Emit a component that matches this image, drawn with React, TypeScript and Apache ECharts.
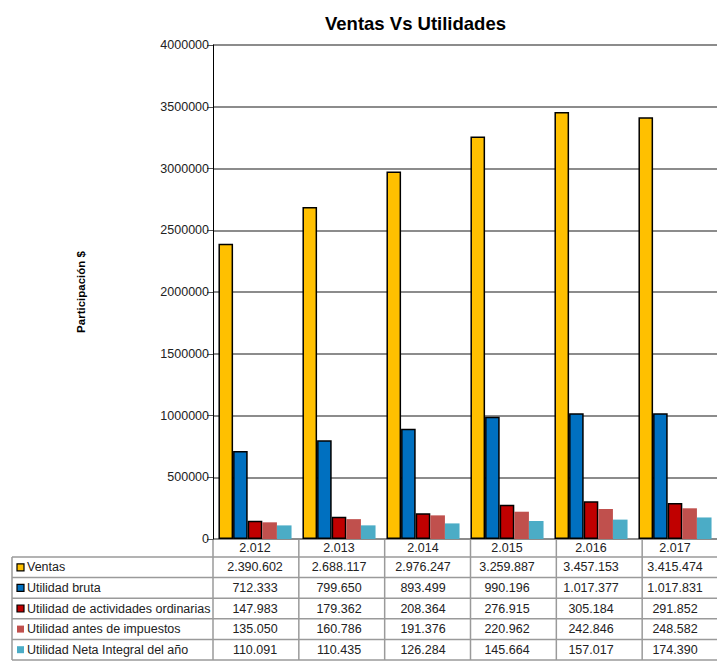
import React, { useEffect, useRef } from "react";
import * as echarts from "echarts";

const categories = ["2.012", "2.013", "2.014", "2.015", "2.016", "2.017"];
const seriesNames = [
  "Ventas",
  "Utilidad bruta",
  "Utilidad de actividades ordinarias",
  "Utilidad antes de impuestos",
  "Utilidad Neta Integral del año",
];
const ventas = [2390602, 2688117, 2976247, 3259887, 3457153, 3415474];
const utilidadBruta = [712333, 799650, 893499, 990196, 1017377, 1017831];
const utilidadOrdinarias = [147983, 179362, 208364, 276915, 305184, 291852];
const utilidadAntesImpuestos = [135050, 160786, 191376, 220962, 242846, 248582];
const utilidadNeta = [110091, 110435, 126284, 145664, 157017, 174390];
const seriesData = [ventas, utilidadBruta, utilidadOrdinarias, utilidadAntesImpuestos, utilidadNeta];
const colors = ["#FFC000", "#0070C0", "#C00000", "#C0504D", "#4BACC6"];
const bordered = [true, true, true, false, false];

const FONT = "'Liberation Sans', Arial, sans-serif";
const GRID_LEFT = 213;
const GRID_TOP = 45;
const GRID_WIDTH = 515;
const GRID_HEIGHT = 494;
const HEADER_H = 18;
const ROW_H = 20.6;
const TABLE_LEFT = 12;

function fmt(n: number): string {
  return String(n).replace(/\B(?=(\d{3})+(?!\d))/g, ".");
}

export default function App() {
  const ref = useRef<HTMLDivElement>(null);
  useEffect(() => {
    if (!ref.current) return;
    const chart = echarts.init(ref.current, undefined, { renderer: "svg" });
    const bottomY = GRID_TOP + GRID_HEIGHT;
    const rightX = GRID_LEFT + GRID_WIDTH;
    const catW = GRID_WIDTH / categories.length;
    const rowTops: number[] = [];
    for (let i = 0; i <= seriesNames.length; i++) rowTops.push(bottomY + HEADER_H + i * ROW_H);
    const lineStyle = { stroke: "#9a9a9a", lineWidth: 1.5 };
    const graphics: any[] = [];
    graphics.push({ type: "line", shape: { x1: GRID_LEFT, y1: bottomY, x2: rightX, y2: bottomY }, style: lineStyle, silent: true });
    rowTops.forEach((y) => {
      graphics.push({ type: "line", shape: { x1: TABLE_LEFT, y1: y, x2: rightX, y2: y }, style: lineStyle, silent: true });
    });
    graphics.push({ type: "line", shape: { x1: TABLE_LEFT, y1: rowTops[0], x2: TABLE_LEFT, y2: rowTops[rowTops.length - 1] }, style: lineStyle, silent: true });
    for (let i = 0; i <= categories.length; i++) {
      const x = GRID_LEFT + i * catW;
      graphics.push({ type: "line", shape: { x1: x, y1: bottomY, x2: x, y2: rowTops[rowTops.length - 1] }, style: lineStyle, silent: true });
    }
    seriesNames.forEach((name, i) => {
      const cy = rowTops[i] + ROW_H / 2;
      graphics.push({
        type: "rect",
        shape: { x: 17, y: cy - 3.5, width: 7, height: 7 },
        style: { fill: colors[i], stroke: bordered[i] ? "#000" : null, lineWidth: bordered[i] ? 1.2 : 0 },
        silent: true,
      });
      graphics.push({
        type: "text",
        x: 27,
        y: cy,
        style: { text: name, fontFamily: FONT, fontSize: 12.5, fill: "#222", verticalAlign: "middle" },
        silent: true,
      });
    });

    const richStyles: any = {
      h: { fontFamily: FONT, fontSize: 12.5, color: "#222", lineHeight: HEADER_H, align: "center" },
      v: { fontFamily: FONT, fontSize: 12.5, color: "#222", lineHeight: ROW_H, align: "center" },
    };

    chart.setOption({
      animation: false,
      backgroundColor: "#fff",
      title: {
        text: "Ventas Vs Utilidades",
        left: 320,
        top: 9,
        textStyle: { fontFamily: FONT, fontSize: 18.5, fontWeight: "bold", color: "#000" },
      },
      grid: { left: GRID_LEFT, top: GRID_TOP, width: GRID_WIDTH, height: GRID_HEIGHT, containLabel: false },
      xAxis: {
        type: "category",
        data: categories,
        axisLine: { show: false },
        axisTick: { show: false },
        axisLabel: {
          margin: 0,
          interval: 0,
          formatter: (value: string, idx: number) => {
            const lines = ["{h|" + value + "}"];
            seriesData.forEach((arr) => lines.push("{v|" + fmt(arr[idx]) + "}"));
            return lines.join("\n");
          },
          rich: richStyles,
        },
      },
      yAxis: {
        type: "value",
        min: 0,
        max: 4000000,
        interval: 500000,
        name: "Participación $",
        nameLocation: "middle",
        nameRotate: 90,
        nameGap: 126,
        nameTextStyle: { fontFamily: FONT, fontSize: 11.5, fontWeight: "bold", color: "#000" },
        axisLine: { show: true, lineStyle: { color: "#000", width: 1 } },
        axisTick: { show: true, length: 6, lineStyle: { color: "#555" } },
        axisLabel: { fontFamily: FONT, fontSize: 12.5, color: "#222", margin: 4, formatter: (v: number) => String(v) },
        splitLine: { show: true, lineStyle: { color: "#8c8c8c", width: 2 } },
      },
      series: seriesNames.map((name, i) => ({
        type: "bar",
        name,
        data: seriesData[i],
        barGap: "0%",
        barCategoryGap: "13%",
        itemStyle: {
          color: colors[i],
          borderColor: bordered[i] ? "#000" : colors[i],
          borderWidth: bordered[i] ? 1.5 : 0,
        },
      })),
      graphic: graphics,
    });
    return () => chart.dispose();
  }, []);
  return <div ref={ref} style={{ position: "fixed", left: 0, top: 0, width: 717, height: 661 }} />;
}
